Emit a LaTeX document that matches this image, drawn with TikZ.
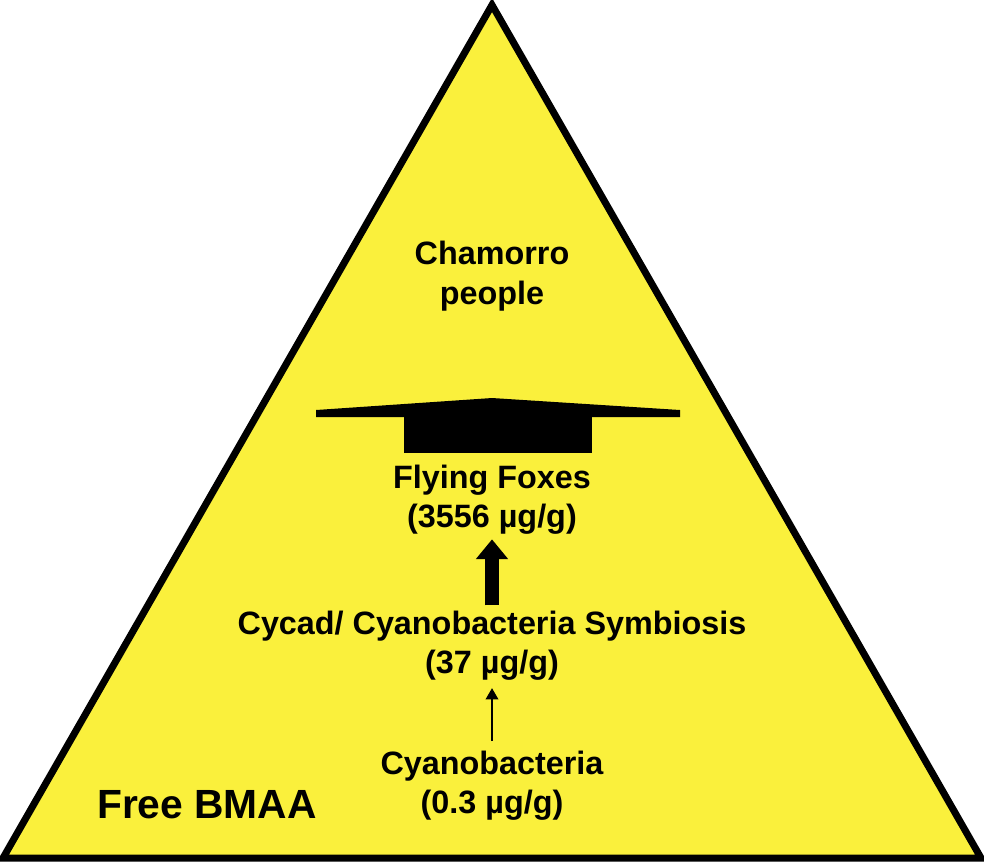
\documentclass[tikz,border=0pt]{standalone}
\usepackage{fontspec}
\setmainfont{Liberation Sans}
\usetikzlibrary{arrows.meta}
\definecolor{pyryellow}{RGB}{250,240,60}
\begin{document}
\begin{tikzpicture}
  [ x=0.025cm, y=-0.025cm,
    label/.style={
      font=\fontsize{23}{28}\selectfont\bfseries,
      align=center,
      inner sep=0pt},
    level/.style={
      draw,
      -{Triangle[length=8pt,width=9pt]},
      line width=#1},
  ]
  \useasboundingbox (0,0) rectangle (984,864);

  % pyramid
  \draw[fill=pyryellow, line width=5pt, line join=miter] (492,5) -- (981,858) -- (3,858) -- cycle;

  \node (people) [label] at (492,276) {Chamorro\\people};

  % barrier
  \fill (316,410) -- (492,398) -- (680,410) -- (680,417) -- (316,417) -- cycle;
  \fill (404,414) rectangle (592,453);

  \node (foxes) [label] at (492,500) {Flying Foxes\\(3556 µg/g)};
  \node (cycad) [label] at (492,646) {Cycad/ Cyanobacteria Symbiosis\\(37 µg/g)};
  \node (cyano) [label] at (492,786) {Cyanobacteria\\(0.3 µg/g)};
  \node (bmaa) [label, font=\fontsize{29}{34}\selectfont\bfseries] at (207,805) {Free BMAA};

  \draw[level=10pt, -{Triangle[length=14pt,width=22pt]}] ([yshift=4pt]cycad.north) -- ([yshift=-3pt]foxes.south);
  \draw[level=1pt] ([yshift=7pt]cyano.north) -- ([yshift=-5pt]cycad.south);
\end{tikzpicture}
\end{document}
